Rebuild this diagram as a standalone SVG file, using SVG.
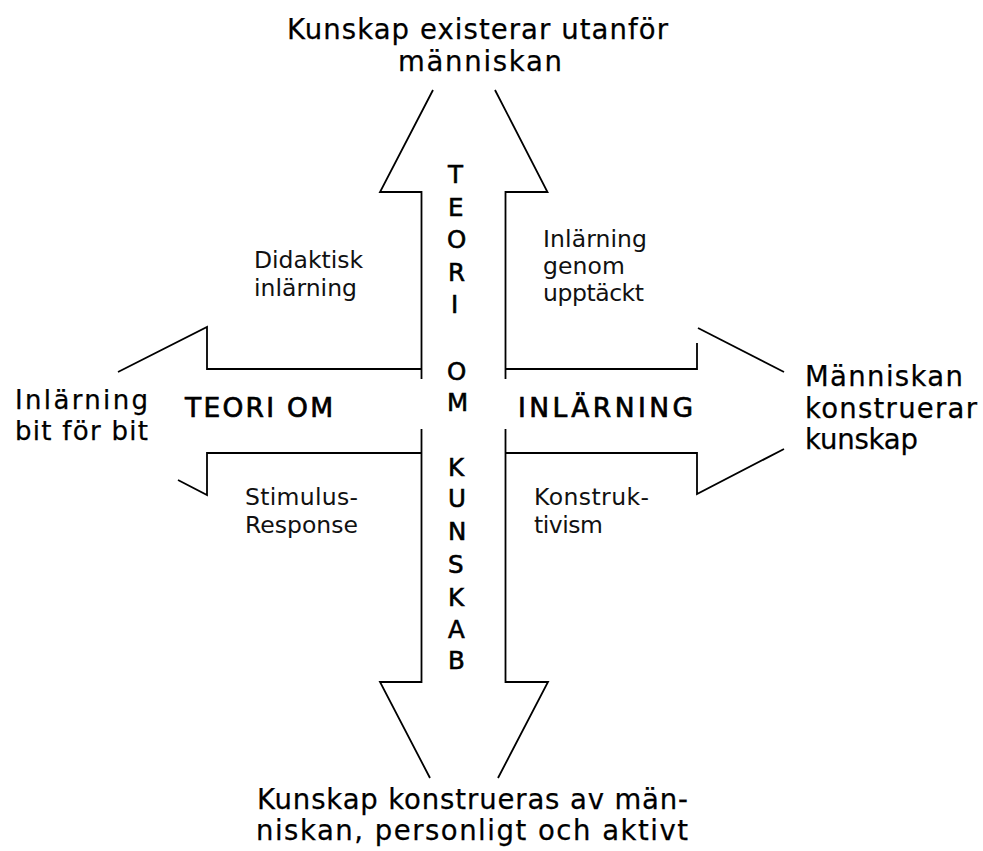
<svg xmlns="http://www.w3.org/2000/svg" width="983" height="851" viewBox="0 0 983 851">
<style>
.ln{fill:none;stroke:#000;stroke-width:1.8;stroke-linejoin:miter}
.big{font-family:"DejaVu Sans",Verdana,sans-serif;font-size:27.5px;fill:#000;stroke:#000;stroke-width:0.25}
.sm{font-family:"DejaVu Sans",Verdana,sans-serif;font-size:23.5px;fill:#111}
.bd{font-family:"DejaVu Sans",Verdana,sans-serif;font-size:26.5px;fill:#000;stroke:#000;stroke-width:0.7}
.vt{font-family:"DejaVu Sans",Verdana,sans-serif;font-size:24.5px;fill:#000;stroke:#000;stroke-width:0.6}
</style>
<rect width="983" height="851" fill="#fff"/>
<g id="connectors">
<path class="ln" d="M421.5 379 V192 H380 L433 90"/>
<path class="ln" d="M495 90 L547.5 192 H505.5 V379"/>
<path class="ln" d="M421.5 369 H207 V327 L118 372"/>
<path class="ln" d="M505.5 369 H697 V343"/>
<path class="ln" d="M698 328 L784 372"/>
<path class="ln" d="M421.5 429 V682 H380 L430 778"/>
<path class="ln" d="M505.5 429 V682 H548 L498 778"/>
<path class="ln" d="M421.5 453 H207 V495 L178 480"/>
<path class="ln" d="M505.5 453 H697 V494 L784 449"/>
</g>
<g id="top">
<text class="big" x="287" y="39" textLength="381" lengthAdjust="spacing">Kunskap existerar utanför</text>
<text class="big" x="398" y="71" textLength="164" lengthAdjust="spacing">människan</text>
</g>
<g id="bottom">
<text class="big" x="257" y="809" textLength="431" lengthAdjust="spacing">Kunskap konstrueras av män-</text>
<text class="big" x="256" y="840" textLength="432" lengthAdjust="spacing">niskan, personligt och aktivt</text>
</g>
<g id="left">
<text class="big" x="15" y="409" textLength="133" lengthAdjust="spacing" style="font-size:26px">Inlärning</text>
<text class="big" x="15" y="440" textLength="133" lengthAdjust="spacing" style="font-size:26px">bit för bit</text>
</g>
<g id="right">
<text class="big" x="805" y="386" textLength="158" lengthAdjust="spacing">Människan</text>
<text class="big" x="805" y="418" textLength="172" lengthAdjust="spacing">konstruerar</text>
<text class="big" x="805" y="449" textLength="113" lengthAdjust="spacing">kunskap</text>
</g>
<g id="didaktisk">
<text class="sm" x="254" y="268" textLength="109" lengthAdjust="spacing">Didaktisk</text>
<text class="sm" x="254" y="296" textLength="103" lengthAdjust="spacing">inlärning</text>
</g>
<g id="upptackt">
<text class="sm" x="543" y="247" textLength="104" lengthAdjust="spacing">Inlärning</text>
<text class="sm" x="543" y="274" textLength="82" lengthAdjust="spacing">genom</text>
<text class="sm" x="543" y="301" textLength="101" lengthAdjust="spacing">upptäckt</text>
</g>
<g id="stimulus">
<text class="sm" x="245" y="505" textLength="113" lengthAdjust="spacing">Stimulus-</text>
<text class="sm" x="245" y="533" textLength="113" lengthAdjust="spacing">Response</text>
</g>
<g id="konstruktivism">
<text class="sm" x="534" y="505" textLength="115" lengthAdjust="spacing">Konstruk-</text>
<text class="sm" x="534" y="533" textLength="69" lengthAdjust="spacing">tivism</text>
</g>
<g id="horizontal-label">
<text class="bd" x="185" y="417" textLength="148" lengthAdjust="spacing">TEORI OM</text>
<text class="bd" x="518" y="417" textLength="175" lengthAdjust="spacing">INLÄRNING</text>
</g>
<g id="vertical-label" class="vt">
<text x="448" y="183">T</text>
<text x="448" y="216">E</text>
<text x="447" y="248">O</text>
<text x="448" y="281">R</text>
<text x="451" y="313">I</text>
<text x="447" y="380">O</text>
<text x="447" y="411">M</text>
<text x="448" y="476">K</text>
<text x="448" y="507">U</text>
<text x="448" y="540">N</text>
<text x="448" y="573">S</text>
<text x="448" y="606">K</text>
<text x="448" y="638">A</text>
<text x="448" y="669">B</text>
</g>
</svg>
